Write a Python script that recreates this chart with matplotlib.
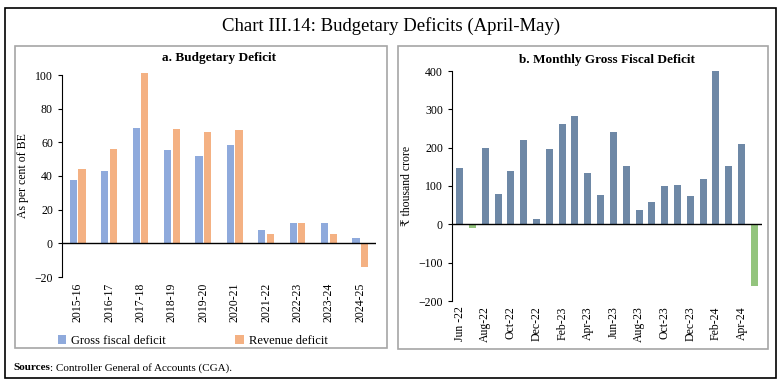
import matplotlib
matplotlib.use("Agg")
import matplotlib.pyplot as plt
from matplotlib.patches import Rectangle
import numpy as np

plt.rcParams['font.family'] = ['Liberation Serif', 'DejaVu Serif']

# panel a data
years = ["2015-16", "2016-17", "2017-18", "2018-19", "2019-20",
         "2020-21", "2021-22", "2022-23", "2023-24", "2024-25"]
gross_fiscal = [37.5, 43, 68.5, 55.5, 52, 58.5, 8, 12.3, 12, 3.3]
revenue_def = [44, 56, 101, 68, 66, 67.5, 5.8, 12.3, 5.5, -14]

# panel b data
months = ["Jun -22", "Jul-22", "Aug-22", "Sep-22", "Oct-22", "Nov-22", "Dec-22",
          "Jan-23", "Feb-23", "Mar-23", "Apr-23", "May-23", "Jun-23", "Jul-23",
          "Aug-23", "Sep-23", "Oct-23", "Nov-23", "Dec-23", "Jan-24", "Feb-24",
          "Mar-24", "Apr-24", "May-24"]
monthly_gfd = [148, -10, 200, 78, 138, 220, 15, 197, 263, 283, 133, 77, 241,
               153, 37, 58, 101, 102, 75, 119, 399, 151, 209, -160]

blue = "#8FAADC"
orange = "#F4B183"
slate = "#6E88A6"
green = "#93C47D"

fig = plt.figure(figsize=(7.82, 3.85), dpi=100)

# outer frame and panel boxes
fig.patches.append(Rectangle((5/782, 1-378/385), 771/782, 370/385, transform=fig.transFigure,
                             fill=False, edgecolor="black", linewidth=1.2))
fig.patches.append(Rectangle((15/782, 1-348/385), 372/782, 302/385, transform=fig.transFigure,
                             fill=False, edgecolor="#A6A6A6", linewidth=1.2))
fig.patches.append(Rectangle((398/782, 1-349/385), 370/782, 303/385, transform=fig.transFigure,
                             fill=False, edgecolor="#A6A6A6", linewidth=1.2))

fig.text(0.5, 1-26/385, "Chart III.14: Budgetary Deficits (April-May)", ha="center", va="center",
         fontsize=13.5)

# ---- panel a
ax1 = fig.add_axes([62/782, 1-277/385, (376-62)/782, (277-75)/385])
x = np.arange(len(years))
w = 0.23
ax1.bar(x - w/2 - 0.02, gross_fiscal, w, color=blue, label="Gross fiscal deficit", clip_on=False)
ax1.bar(x + w/2 + 0.02, revenue_def, w, color=orange, label="Revenue deficit", clip_on=False)
ax1.set_xlim(-0.5, len(years) - 0.5)
ax1.set_ylim(-20, 100)
ax1.set_yticks(range(-20, 101, 20))
ax1.set_xticks(x)
ax1.set_xticklabels(years, rotation=90, fontsize=8.5)
ax1.tick_params(axis="y", labelsize=8.5, length=3, direction="out")
ax1.tick_params(axis="x", length=0, pad=4)
for s in ["top", "right", "bottom"]:
    ax1.spines[s].set_visible(False)
ax1.axhline(0, color="black", linewidth=1)
ax1.set_ylabel("As per cent of BE", fontsize=8.5)
ax1.set_title("a. Budgetary Deficit", fontsize=9.5, fontweight="bold", pad=10)
ax1.legend(loc="upper left", bbox_to_anchor=(-0.05, -0.23), ncol=2, frameon=False,
           fontsize=9, handlelength=0.7, handleheight=0.7, columnspacing=5.5, handletextpad=0.4)

# ---- panel b
ax2 = fig.add_axes([452/782, 1-301/385, (762-452)/782, (301-71)/385])
xm = np.arange(len(months))
cols = [slate if v >= 0 else green for v in monthly_gfd]
ax2.bar(xm, monthly_gfd, 0.55, color=cols)
ax2.set_xlim(-0.6, len(months) - 0.4)
ax2.set_ylim(-200, 400)
ax2.set_yticks(range(-200, 401, 100))
ax2.set_xticks(xm[::2])
ax2.set_xticklabels(months[::2], rotation=90, fontsize=8.5)
ax2.tick_params(axis="y", labelsize=8.5, length=3, direction="out")
ax2.tick_params(axis="x", length=0, pad=4)
for s in ["top", "right", "bottom"]:
    ax2.spines[s].set_visible(False)
ax2.axhline(0, color="black", linewidth=1)
ax2.set_ylabel("₹ thousand crore", fontsize=8.5)
ax2.set_title("b. Monthly Gross Fiscal Deficit", fontsize=9.5, fontweight="bold", pad=6)

t = fig.text(13/782, 1-368/385, "Sources", ha="left", va="center", fontsize=8, fontweight="bold")
fig.canvas.draw()
bb = t.get_window_extent()
fig.text(bb.x1 / 782, 1-368/385, ": Controller General of Accounts (CGA).",
         ha="left", va="center", fontsize=8)

fig.savefig("out.png", dpi=100)
